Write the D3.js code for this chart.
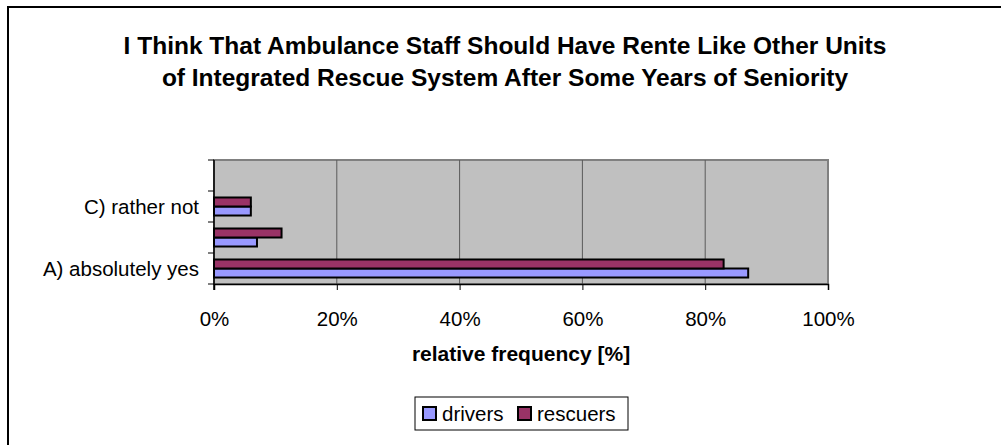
<!DOCTYPE html>
<html>
<head>
<meta charset="utf-8">
<script src="https://cdn.jsdelivr.net/npm/d3@7"></script>
<style>
  html, body { margin: 0; padding: 0; background: #fff; }
  svg { display: block; }
  text { font-family: "Liberation Sans", Arial, sans-serif; fill: #000; }
</style>
</head>
<body>
<svg id="chart" width="1001" height="445"></svg>
<script>
// Answer categories, listed bottom to top
const categories = ["A) absolutely yes", "B) rather yes", "C) rather not", "D) absolutely not"];
const seriesNames = ["drivers", "rescuers"];
const drivers = [87, 7, 6, 0];
const rescuers = [83, 11, 6, 0];
const xTicks = [0, 20, 40, 60, 80, 100];
const titleLines = [
  "I Think That Ambulance Staff Should Have Rente Like Other Units",
  "of Integrated Rescue System After Some Years of Seniority"
];
const xTitle = "relative frequency [%]";

const colors = { drivers: "#9999FF", rescuers: "#993366" };
const values = { drivers, rescuers };

const svg = d3.select("#chart");

// outer chart frame (right and bottom edges fall outside the view)
svg.append("rect")
  .attr("x", 8).attr("y", 7).attr("width", 1000).attr("height", 460)
  .attr("fill", "#fff").attr("stroke", "#000").attr("stroke-width", 2);

// title
const title = svg.append("text")
  .attr("text-anchor", "middle")
  .attr("font-weight", "bold")
  .attr("font-size", 24.5);
titleLines.forEach((t, i) => {
  title.append("tspan").attr("x", 505).attr("y", 54 + i * 32).text(t);
});

const plot = { left: 214, right: 828, top: 160, bottom: 284 };

const x = d3.scaleLinear().domain([0, 100]).range([plot.left, plot.right]);
const y = d3.scaleBand()
  .domain(categories.slice().reverse())
  .range([plot.top, plot.bottom])
  .paddingInner(0).paddingOuter(0);
const ySub = d3.scaleBand()
  .domain(["rescuers", "drivers"])
  .range([0, y.bandwidth()])
  .paddingInner(0).paddingOuter(0.72);

// plot area background
svg.append("rect")
  .attr("x", plot.left).attr("y", plot.top)
  .attr("width", plot.right - plot.left).attr("height", plot.bottom - plot.top)
  .attr("fill", "#C0C0C0").attr("stroke", "#808080").attr("stroke-width", 2);

// vertical gridlines
svg.append("g")
  .selectAll("line")
  .data(xTicks.filter(d => d > 0 && d < 100))
  .join("line")
  .attr("x1", d => x(d)).attr("x2", d => x(d))
  .attr("y1", plot.top).attr("y2", plot.bottom)
  .attr("stroke", "#5a5a5a").attr("stroke-width", 1);

// bars
const groups = svg.append("g")
  .selectAll("g")
  .data(categories.map((c, i) => ({ c, i })))
  .join("g")
  .attr("transform", d => `translate(0,${y(d.c)})`);

groups.selectAll("rect")
  .data(d => seriesNames.map(s => ({ s, v: values[s][d.i] })))
  .join("rect")
  .filter(d => d.v > 0)
  .attr("x", x(0))
  .attr("y", d => ySub(d.s))
  .attr("width", d => x(d.v) - x(0))
  .attr("height", ySub.bandwidth())
  .attr("fill", d => colors[d.s])
  .attr("stroke", "#000").attr("stroke-width", 2);

// bottom axis
const xAxis = d3.axisBottom(x)
  .tickValues(xTicks)
  .tickSize(6)
  .tickFormat(d => d + "%");
const gx = svg.append("g")
  .attr("transform", `translate(0,${plot.bottom})`)
  .call(xAxis);
gx.select(".domain").attr("stroke", "#000").attr("stroke-width", 1.5);
gx.selectAll(".tick line").attr("stroke", "#000");
gx.selectAll(".tick text")
  .attr("font-size", 20.5)
  .attr("font-family", "Liberation Sans, Arial, sans-serif")
  .attr("dy", 0).attr("y", 42);

// left axis: ticks at category boundaries, labels on alternate categories
const gy = svg.append("g").attr("transform", `translate(${plot.left},0)`);
gy.append("line")
  .attr("x1", 0).attr("x2", 0)
  .attr("y1", plot.top).attr("y2", plot.bottom + 6)
  .attr("stroke", "#000").attr("stroke-width", 1.5);
const boundaries = y.domain().map(c => y(c)).concat([plot.bottom]);
gy.selectAll("line.tick")
  .data(boundaries)
  .join("line")
  .attr("class", "tick")
  .attr("x1", -6).attr("x2", 0)
  .attr("y1", d => d).attr("y2", d => d)
  .attr("stroke", "#000").attr("stroke-width", 1);
gy.selectAll("text")
  .data(categories.filter((c, i) => i % 2 === 0))
  .join("text")
  .attr("x", -15)
  .attr("y", d => y(d) + y.bandwidth() / 2)
  .attr("dy", "0.35em")
  .attr("text-anchor", "end")
  .attr("font-size", 20.5)
  .text(d => d);

// x axis title
svg.append("text")
  .attr("x", (plot.left + plot.right) / 2)
  .attr("y", 361)
  .attr("text-anchor", "middle")
  .attr("font-weight", "bold")
  .attr("font-size", 21)
  .text(xTitle);

// legend
const legend = svg.append("g");
legend.append("rect")
  .attr("x", 415).attr("y", 397).attr("width", 213).attr("height", 33)
  .attr("fill", "#fff").attr("stroke", "#000").attr("stroke-width", 1);
const legendX = [423, 518];
seriesNames.forEach((s, i) => {
  legend.append("rect")
    .attr("x", legendX[i]).attr("y", 407)
    .attr("width", 13).attr("height", 13)
    .attr("fill", colors[s]).attr("stroke", "#000").attr("stroke-width", 2);
  legend.append("text")
    .attr("x", legendX[i] + 19).attr("y", 421)
    .attr("font-size", 20.5)
    .text(s);
});
</script>
</body>
</html>
